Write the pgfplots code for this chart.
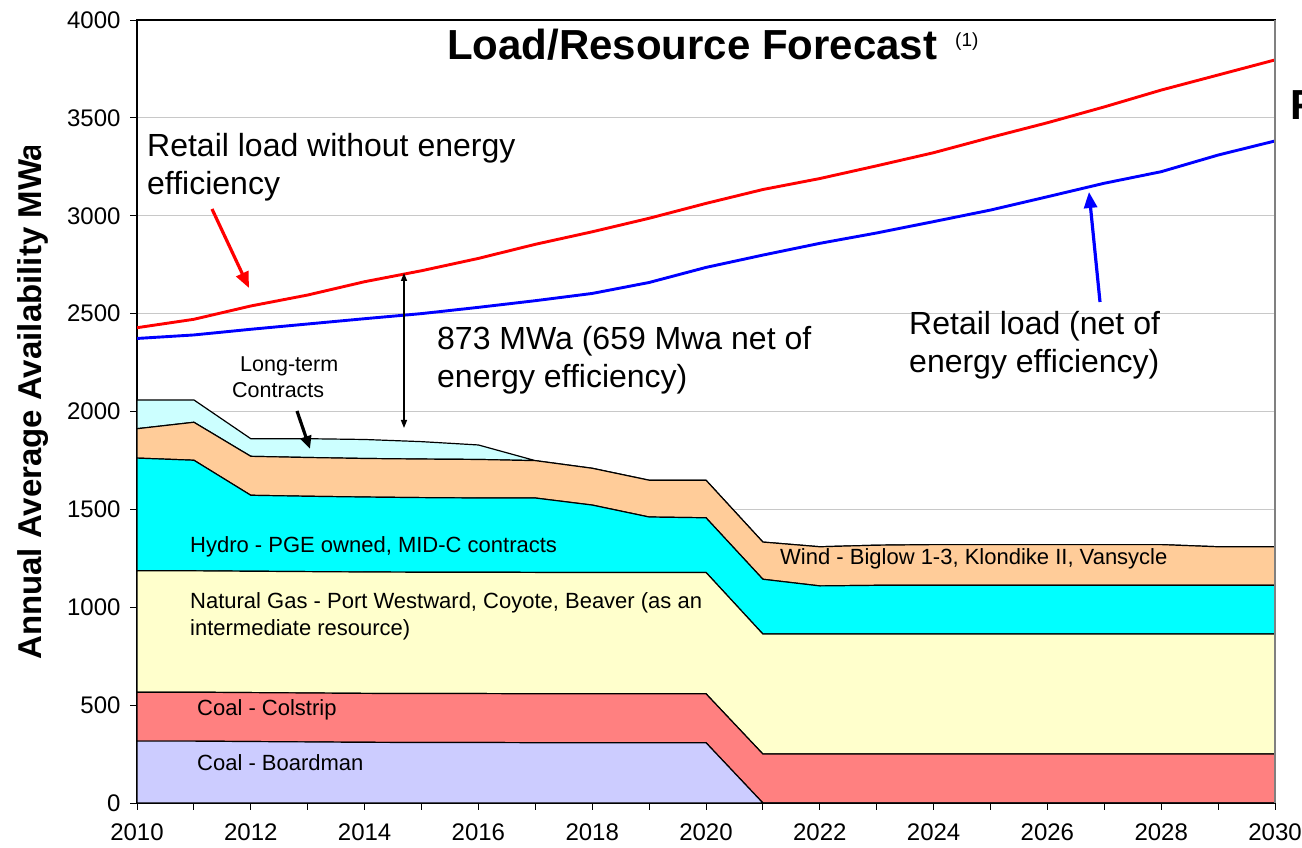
\documentclass[border=0pt]{standalone}
\usepackage{fontspec}
\setmainfont{Liberation Sans}
\usepackage{pgfplots}
\usepackage{pgfplotstable}
\pgfplotsset{compat=1.18}
\usetikzlibrary{arrows.meta}

\definecolor{boardman}{HTML}{CCCCFF}
\definecolor{colstrip}{HTML}{FF8080}
\definecolor{gas}{HTML}{FFFFCC}
\definecolor{hydro}{HTML}{00FFFF}
\definecolor{wind}{HTML}{FFCC99}
\definecolor{contracts}{HTML}{CCFFFF}
\definecolor{gridgray}{HTML}{C8C8C8}

% Resources, MWa (stacked from the bottom)
\pgfplotstableread{
year B   C   G   H   W   LT
2010 316 250 620 576 150 147
2011 316 250 620 565 194 114
2012 314 250 620 388 199 90
2013 312 250 620 385 198 96
2014 310 250 620 383 197 97
2015 309 250 620 381 197 89
2016 309 250 620 379 197 74
2017 308 250 620 380 191 0
2018 308 250 620 344 188 0
2019 308 250 620 283 188 0
2020 308 250 620 279 192 0
2021 0   250 613 280 190 0
2022 0   250 613 246 200 0
2023 0   250 613 249 205 0
2024 0   250 613 249 208 0
2025 0   250 613 249 208 0
2026 0   250 613 249 208 0
2027 0   250 613 249 208 0
2028 0   250 613 249 208 0
2029 0   250 613 249 197 0
2030 0   250 613 249 197 0
}\stacktable

% Retail load, MWa
\pgfplotstableread{
year noee net
2010 2428 2373
2011 2471 2391
2012 2539 2420
2013 2595 2447
2014 2663 2474
2015 2719 2500
2016 2782 2532
2017 2854 2566
2018 2918 2603
2019 2987 2659
2020 3063 2736
2021 3134 2799
2022 3190 2859
2023 3255 2912
2024 3322 2970
2025 3400 3029
2026 3475 3097
2027 3556 3166
2028 3642 3225
2029 3719 3310
2030 3796 3382
}\loadtable

\pgfplotsset{base/.style={
  at={(137pt,45pt)}, anchor=south west, scale only axis,
  width=1138pt, height=783pt,
  xmin=2010, xmax=2030, ymin=0, ymax=4000}}

\begin{document}
\begin{tikzpicture}
\path[use as bounding box] (0,0) rectangle (1302pt,848pt);

\begin{axis}[base,
  xtick={2010,2012,...,2030},
  minor xtick={2011,2013,...,2029},
  ytick={0,500,...,4000},
  xtick pos=bottom, ytick pos=left,
  tick align=outside,
  major tick length=7pt, minor tick length=7pt,
  tick style={black, line width=0.9pt},
  ymajorgrids, grid style={gridgray, line width=0.9pt},
  axis line style={black, line width=1.3pt},
  tick label style={font=\fontsize{24}{28}\selectfont},
  xticklabel style={yshift=-10pt},
  yticklabel style={xshift=-6pt},
  /pgf/number format/assume math mode=true,
  /pgf/number format/1000 sep={},
  stack plots=y,
]
\addplot[fill=boardman, draw=black, line width=1.2pt] table[x=year,y=B]{\stacktable} \closedcycle;
\addplot[fill=colstrip, draw=black, line width=1.2pt] table[x=year,y=C]{\stacktable} \closedcycle;
\addplot[fill=gas, draw=black, line width=1.2pt] table[x=year,y=G]{\stacktable} \closedcycle;
\addplot[fill=hydro, draw=black, line width=1.2pt] table[x=year,y=H]{\stacktable} \closedcycle;
\addplot[fill=wind, draw=black, line width=1.2pt] table[x=year,y=W]{\stacktable} \closedcycle;
\addplot[fill=contracts, draw=black, line width=1.2pt] table[x=year,y=LT]{\stacktable} \closedcycle;
\end{axis}

\begin{axis}[base, hide axis]
\addplot[red, line width=2.9pt] table[x=year,y=noee]{\loadtable};
\addplot[blue, line width=2.9pt] table[x=year,y=net]{\loadtable};
\end{axis}

% right border (grey)
\draw[gray, line width=1.3pt] (1275pt,45pt) -- (1275pt,828pt);

% y axis label (clipped at the top as in the original)
\begin{scope}
\clip (0,0) rectangle (100pt,701pt);
\node[rotate=90, anchor=base west, inner sep=0pt,
  font=\bfseries\fontsize{33}{40}\selectfont] at (41pt,188pt)
  {Annual Average Availability MWa};
\end{scope}

\begin{scope}[x=1pt, y=-1pt, yshift=848pt]
% title
\node[anchor=base west, inner sep=0pt, font=\bfseries\fontsize{42}{50}\selectfont]
  at (447,60) {Load/Resource Forecast};
\node[anchor=base west, inner sep=0pt, font=\fontsize{19}{22}\selectfont]
  at (955,47) {(1)};
\node[anchor=base west, inner sep=0pt, font=\bfseries\fontsize{42}{50}\selectfont]
  at (1290,120) {F};

% big annotations
\begin{scope}[every node/.style={anchor=base west, inner sep=0pt, font=\fontsize{32}{38}\selectfont}]
\node at (147,157) {Retail load without energy};
\node at (147,195) {efficiency};
\node at (437,350) {873 MWa (659 Mwa net of};
\node at (437,388) {energy efficiency)};
\node at (909,335) {Retail load (net of};
\node at (909,373) {energy efficiency)};
\end{scope}

% stack labels
\begin{scope}[every node/.style={anchor=base west, inner sep=0pt, font=\fontsize{22}{26}\selectfont}]
\node at (190,553) {Hydro - PGE owned, MID-C contracts};
\node at (190,609) {Natural Gas - Port Westward, Coyote, Beaver (as an};
\node at (190,636) {intermediate resource)};
\node at (197,716) {Coal - Colstrip};
\node at (197,771) {Coal - Boardman};
\node at (780,565) {Wind - Biglow 1-3, Klondike II, Vansycle};
\end{scope}
\begin{scope}[every node/.style={anchor=base west, inner sep=0pt, font=\fontsize{21.5}{26}\selectfont}]
\node at (240,372) {Long-term};
\node at (232,398) {Contracts};
\end{scope}

% arrows
\draw[red, line width=3.2pt, -{Triangle[length=16pt,width=13pt]}] (212,209) -- (249,288);
\draw[blue, line width=3.2pt, -{Triangle[length=16pt,width=13pt]}] (1100,302) -- (1089,192);
\draw[black, line width=3.2pt, -{Triangle[length=13pt,width=11pt]}] (297,411) -- (310,449);
\draw[black, line width=1.4pt, {Triangle[length=8pt,width=6pt]}-{Triangle[length=8pt,width=6pt]}] (404,273) -- (404,428);
\end{scope}
\end{tikzpicture}
\end{document}
